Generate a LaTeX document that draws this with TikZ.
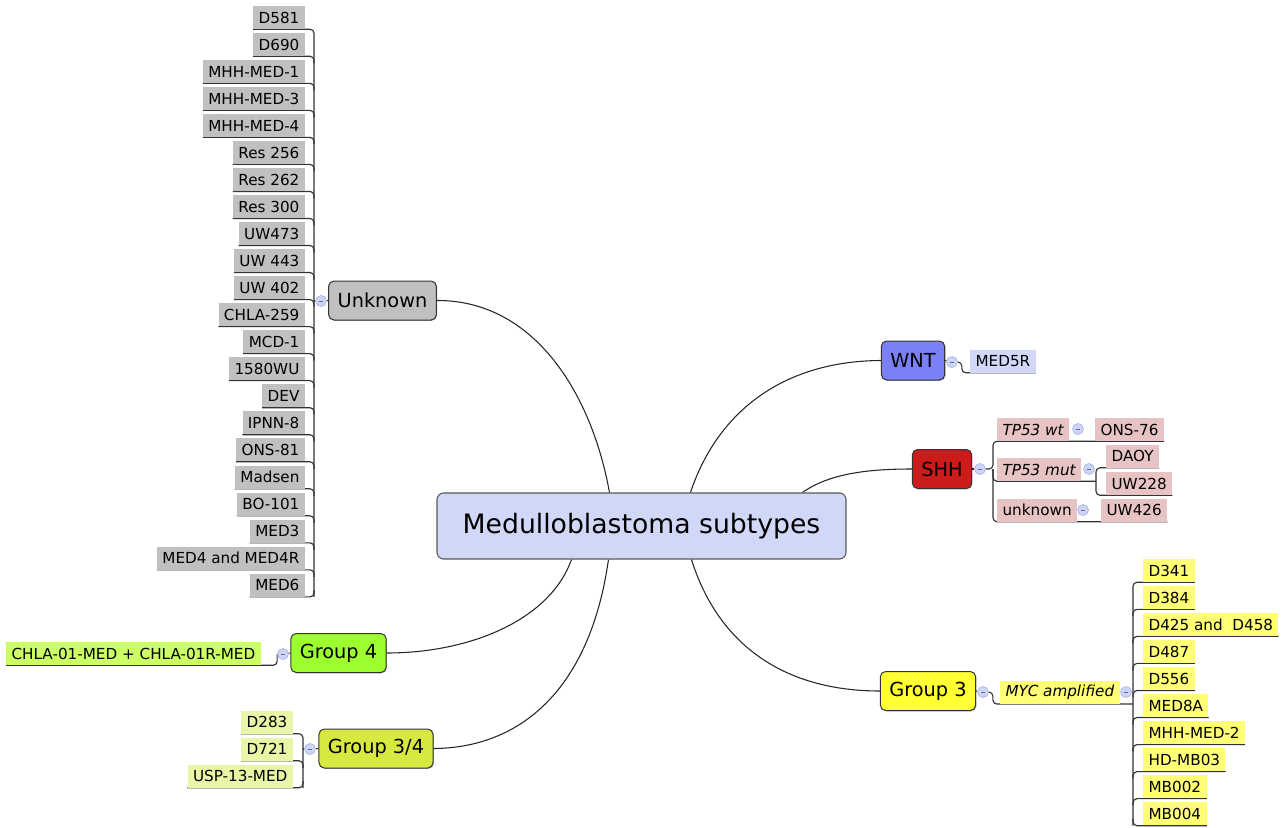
\documentclass[tikz,border=0pt]{standalone}
\usepackage{fontspec}
\setmainfont{DejaVu Sans}
\usetikzlibrary{calc,shadows}
\definecolor{mainc}{HTML}{D1D7F7}
\definecolor{unkc}{HTML}{C0C0C0}
\definecolor{wntc}{HTML}{7B80F6}
\definecolor{wntl}{HTML}{D3D8F8}
\definecolor{shhc}{HTML}{CC1B1B}
\definecolor{shhl}{HTML}{E8C3C3}
\definecolor{gtc}{HTML}{FFFF33}
\definecolor{gtl}{HTML}{FFFF77}
\definecolor{gfc}{HTML}{9DFF2E}
\definecolor{gfl}{HTML}{CCFF66}
\definecolor{gtfc}{HTML}{D7E840}
\definecolor{gtfl}{HTML}{EBF5A8}
\definecolor{togf}{HTML}{CDD5F6}
\definecolor{togb}{HTML}{A8B4E8}
\pgfdeclarelayer{bg}
\pgfsetlayers{bg,main}
\begin{document}
\begin{tikzpicture}[x=0.75pt,y=-0.75pt,
  conn/.style={draw=black!85, line width=0.8pt},
  br/.style={draw=black!80, line width=0.85pt, rounded corners=3pt},
  mainbox/.style={draw=black!65, line width=0.8pt, rounded corners=5pt, fill=mainc, minimum width=306.75pt, minimum height=49.5pt, font=\fontsize{20}{24}\selectfont, inner sep=0pt},
  grp/.style={draw=black!80, line width=0.75pt, rounded corners=4pt, minimum height=29.25pt, inner xsep=6.75pt, inner ysep=0pt, font=\fontsize{14.5}{17}\selectfont, drop shadow={shadow xshift=0.6pt, shadow yshift=-0.6pt, opacity=0.3, fill=black}},
  leaf/.style={inner xsep=4pt, inner ysep=0pt, minimum height=17.25pt, font=\fontsize{11.4}{13}\selectfont},
  tog/.style={circle, draw=togb, fill=togf, line width=0.5pt, minimum size=8.25pt, inner sep=0pt, path picture={\draw[togb!60!black, line width=0.5pt] ([xshift=-1.8pt]path picture bounding box.center) -- ([xshift=1.8pt]path picture bounding box.center);}}
]
\useasboundingbox (0,0) rectangle (1282,828);

% main and group nodes
\node[mainbox] (main) at (641.5,526) {Medulloblastoma subtypes};
\node[grp, fill=unkc] (unk) at (382.5,300.5) {Unknown};
\node[grp, fill=wntc] (wnt) at (913,360.5) {WNT};
\node[grp, fill=shhc] (shh) at (942,469) {SHH};
\node[grp, fill=gtc] (g3) at (928,691) {Group 3};
\node[grp, fill=gfc] (g4) at (338.5,653) {Group 4};
\node[grp, fill=gtfc] (g34) at (376,748.5) {Group 3/4};

% toggles
\node[tog] (uc) at (321,301) {};
\node[tog] (wc) at (952,362) {};
\node[tog] (sc) at (980,469) {};
\node[tog] (wtc) at (1078,429) {};
\node[tog] (mutc) at (1089,469) {};
\node[tog] (unkc) at (1083,510) {};
\node[tog] (g3c) at (983,692) {};
\node[tog] (mycc) at (1126,692) {};
\node[tog] (g4c) at (283,654) {};
\node[tog] (g34c) at (310,749) {};

% bracket coordinates
\coordinate (ub) at (314,301);
\coordinate (sb) at (993,469);
\coordinate (mb) at (1096,469);
\coordinate (g3b) at (1133,704);
\coordinate (g34b) at (303,749);

% Unknown leaves
\foreach \t [count=\i from 0] in {D581,D690,MHH-MED-1,MHH-MED-3,MHH-MED-4,Res 256,Res 262,Res 300,UW473,UW 443,UW 402,CHLA-259,MCD-1,1580WU,DEV,IPNN-8,ONS-81,Madsen,BO-101,MED3,MED4 and MED4R,MED6}
  \node[leaf, fill=unkc, anchor=east] (u\i) at (305,{17.5+27.03*\i}) {\t};

% WNT leaf
\node[leaf, fill=wntl, anchor=west] (w1) at (970,361) {MED5R};

% SHH children
\node[leaf, fill=shhl, anchor=west] (wt) at (997,429.5) {\itshape TP53 wt};
\node[leaf, fill=shhl, anchor=west] (ons) at (1095,429.5) {ONS-76};
\node[leaf, fill=shhl, anchor=west] (mut) at (997,469.5) {\itshape TP53 mut};
\node[leaf, fill=shhl, anchor=west] (daoy) at (1106,456) {DAOY};
\node[leaf, fill=shhl, anchor=west] (uw228) at (1106,483.5) {UW228};
\node[leaf, fill=shhl, anchor=west] (unkn) at (997,510) {unknown};
\node[leaf, fill=shhl, anchor=west] (uw426) at (1101,510) {UW426};

% Group 3 children
\node[leaf, fill=gtl, anchor=west] (myc) at (1000,692) {\itshape MYC amplified};
\foreach \t [count=\i from 0] in {D341,D384,D425 and\ \ D458,D487,D556,MED8A,MHH-MED-2,HD-MB03,MB002,MB004}
  \node[leaf, fill=gtl, anchor=west] (d\i) at (1143,{570.5+27.05*\i}) {\t};

% Group 4 leaf
\node[leaf, fill=gfl, anchor=west] (g4l) at (6,653.5) {CHLA-01-MED + CHLA-01R-MED};

% Group 3/4 leaves
\node[leaf, fill=gtfl, anchor=east] (e0) at (293,722) {D283};
\node[leaf, fill=gtfl, anchor=east] (e1) at (293,749) {D721};
\node[leaf, fill=gtfl, anchor=east] (e2) at (293,776) {USP-13-MED};

\begin{pgfonlayer}{bg}
% main curves
\draw[conn] ($(main.north west)+(173,0)$) .. controls (592,395) and (535,300) .. (unk.east);
\draw[conn] ($(main.north west)+(254,0)$) .. controls (718,410) and (785,361) .. (wnt.west);
\draw[conn] ($(main.north west)+(366,0)$) .. controls (830,473) and (870,469) .. (shh.west);
\draw[conn] ($(main.south west)+(255,0)$) .. controls (720,650) and (790,691) .. (g3.west);
\draw[conn] ($(main.south west)+(135,0)$) .. controls (550,620) and (470,653) .. (g4.east);
\draw[conn] ($(main.south west)+(172,0)$) .. controls (590,690) and (520,748) .. (g34.east);

% Unknown bracket
\draw[conn] (unk.west) -- (uc);
\draw[br] (uc) -- (ub);
\draw[br] (u0.south west) -| (ub |- u21.south);
\foreach \i in {1,...,20}
  \draw[br] (u\i.south west) -| ($(ub |- u\i.south)+(0,7)$);
\draw[br] (u21.south west) -| ($(ub |- u21.south)+(0,-7)$);

% WNT
\draw[conn] (wnt.east) -- (wc);
\draw[br] (wc.east) -- ++(4,0) |- (w1.south east);

% SHH
\draw[conn] (shh.east) -- (sc);
\draw[br] (ons.south east) -- (wt.south -| sb) -- (sb) -- (sc.east);
\draw[br] (uw426.south east) -- (unkn.south -| sb) -- (sb);
\draw[br] (mb |- mut.south) -- (mut.south -| sb) -- (sb);
\draw[br] (daoy.south east) -- (daoy.south -| mb) -- (uw228.south -| mb) -- (uw228.south east);

% Group 3
\draw[conn] (g3.east) -- (g3c);
\draw[br] (g3c.east) -- ++(4,0) |- (g3b);
\draw[br] (d0.south east) -| (g3b |- d9.south);
\foreach \i in {1,...,8}
  \draw[br] (d\i.south east) -| ($(g3b |- d\i.south)+(0,7)$);
\draw[br] (d9.south east) -| ($(g3b |- d9.south)+(0,-7)$);

% Group 4
\draw[conn] (g4.west) -- (g4c);
\draw[br] (g4l.south west) -| (g4c.west);

% Group 3/4
\draw[conn] (g34.west) -- (g34c);
\draw[br] (g34c) -- (g34b);
\draw[br] (e0.south west) -| (g34b |- e2.south);
\draw[br] (e1.south west) -| ($(g34b |- e1.south)+(0,7)$);
\draw[br] (e2.south west) -| ($(g34b |- e2.south)+(0,-7)$);
\end{pgfonlayer}
\end{tikzpicture}
\end{document}
